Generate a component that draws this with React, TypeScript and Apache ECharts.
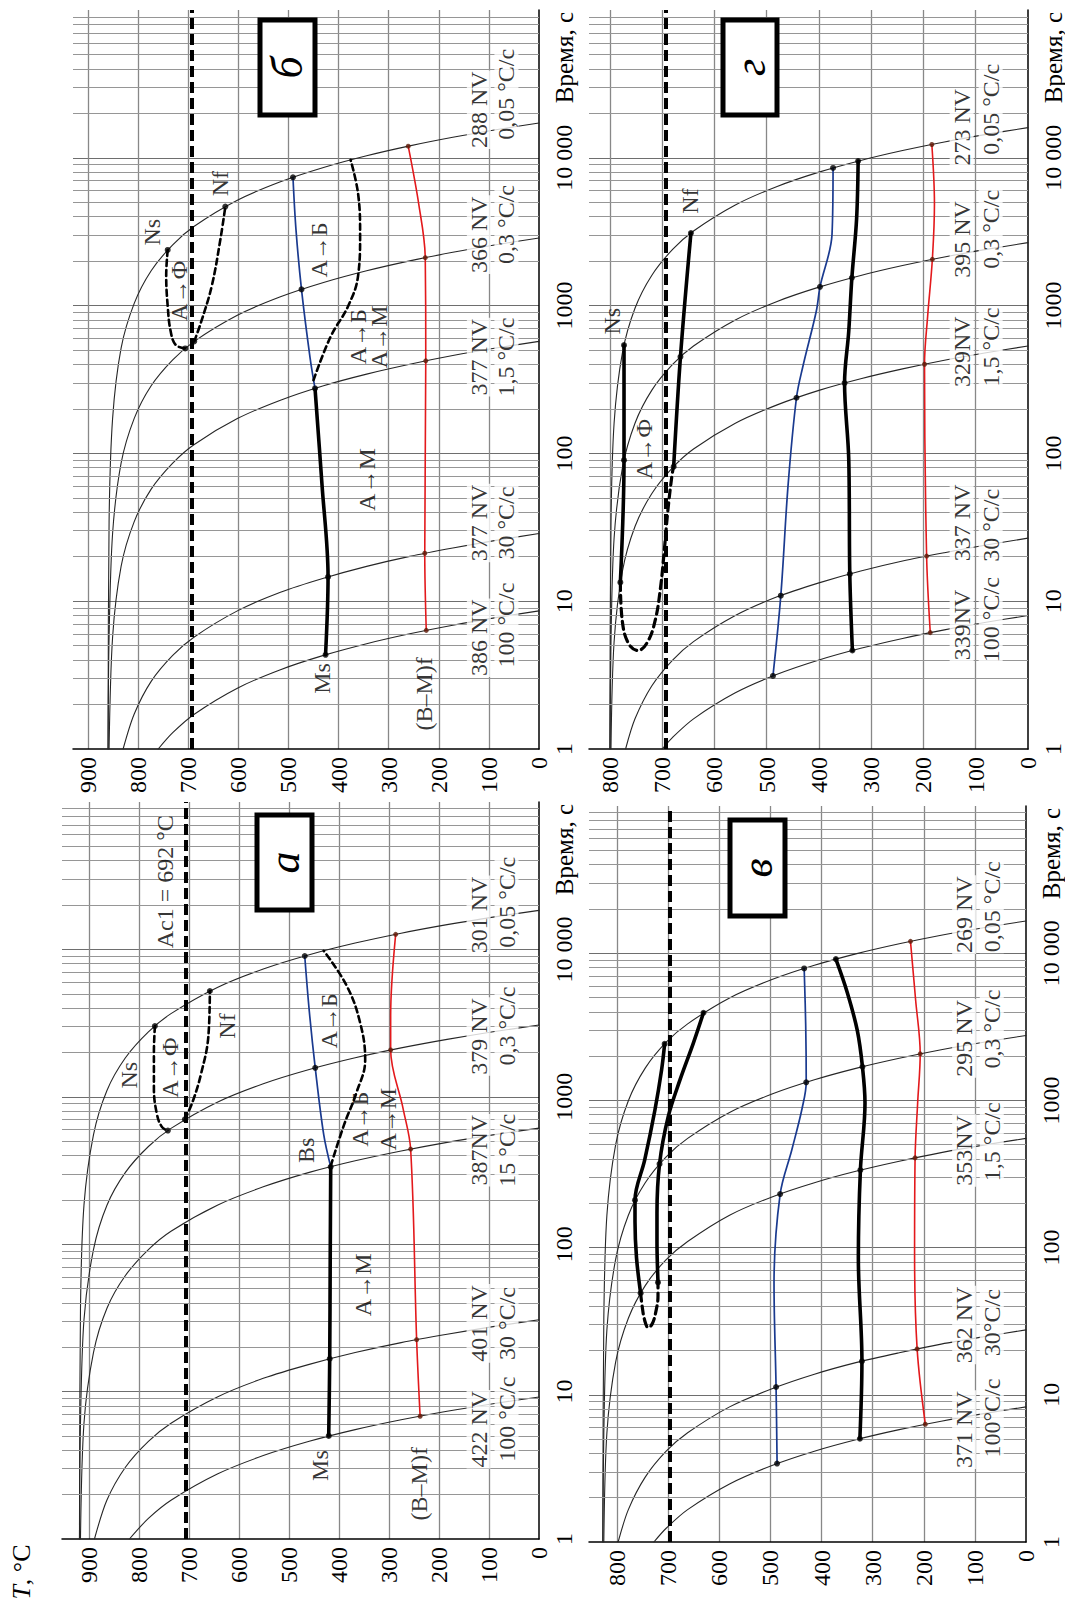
import React, { useEffect, useRef } from 'react';
import * as echarts from 'echarts';

type Pt = [number, number];
type Note = [string, number, number];

// ===================== Panel а  (T, °C ; time, s) =====================
const aCool100: Pt[] = [[820,1],[782,1.38],[736,1.84],[644,2.76],[552,3.68],[460,4.6],[368,5.52],[276,6.44],[184,7.36],[92,8.28],[0,9.2]];
const aCool30: Pt[] = [[890,1],[865,1.84],[828,3.07],[782,4.6],[736,6.13],[644,9.2],[552,12.3],[460,15.3],[368,18.4],[276,21.5],[184,24.5],[92,27.6],[0,30.7]];
const aCool1_5: Pt[] = [[918,1],[911,6.1],[892,18.4],[865,36.8],[828,61.3],[782,92],[736,123],[644,184],[552,245],[460,307],[368,368],[276,429],[184,491],[92,552],[0,613]];
const aCool0_3: Pt[] = [[920,1],[918,6.1],[911,30.7],[892,92],[865,184],[828,307],[782,460],[736,613],[644,920],[552,1227],[460,1533],[368,1840],[276,2147],[184,2453],[92,2760],[0,3067]];
const aCool0_05: Pt[] = [[920,1],[918,36.8],[911,184],[892,552],[865,1104],[828,1840],[782,2760],[736,3680],[644,5520],[552,7360],[460,9200],[368,11040],[276,12880],[184,14720],[92,16560],[0,18400]];
const aMs: Pt[] = [[421,5.0],[419,16.7],[418,80],[417,335]];
const aBainite: Pt[] = [[417,335],[431,553],[448,1573],[460,3843],[469,9020]];
const aBMf: Pt[] = [[238,6.8],[245,22.5],[257,442],[272,829],[297,2077],[297,3548],[287,12660]];
const aNs: Pt[] = [[769,3020],[771,2014],[771,1145],[765,764],[755,625],[743,590]];
const aNf: Pt[] = [[709,703],[693,935],[676,1459],[662,2567],[659,5220]];
const aAB: Pt[] = [[417,340],[390,650],[366,1055],[348,1783],[359,3270],[386,5750],[431,9780]];
const aNodes: Pt[] = [[421,5.0],[419,16.7],[417,335],[448,1573],[469,9020],[769,3020],[743,590],[709,703],[659,5220]];
const aRedNodes: Pt[] = [[238,6.8],[245,22.5],[257,442],[297,2077],[287,12660]];
const aAc1 = 707;
const aNotes: Note[] = [['Ns',821,1400],['А→Ф',738,1580],['Nf',624,3020],['А→Б',421,3270],['А→Б',358,705],['А→М',303,705],['А→М',352,53],['Bs',466,434],['Ms',438,3.15],['(B–M)f',241,2.37],['Ac1 = 692 °C',748,28800]];
const aRates: Note[] = [['422 NV',121,5.55],['100 °C/c',65,6.5],['401 NV',121,29],['30 °C/c',65,29],['387NV',121,434],['15 °C/c',65,434],['379 NV',121,2565],['0,3 °C/c',65,3020],['301 NV',121,17140],['0,05 °C/c',65,20900]];

// ===================== Panel б =====================
const bCool100: Pt[] = [[760,1],[731,1.29],[688,1.72],[602,2.58],[516,3.44],[430,4.3],[344,5.16],[258,6.02],[172,6.88],[86,7.74],[0,8.6]];
const bCool30: Pt[] = [[830,1],[808,1.72],[774,2.87],[731,4.3],[688,5.73],[602,8.6],[516,11.5],[430,14.3],[344,17.2],[258,20.1],[172,22.9],[86,25.8],[0,28.7]];
const bCool1_5: Pt[] = [[858,1],[851,5.7],[834,17.2],[808,34.4],[774,57.3],[731,86],[688,115],[602,172],[516,229],[430,287],[344,344],[258,401],[172,459],[86,516],[0,573]];
const bCool0_3: Pt[] = [[860,1],[858,5.7],[851,28.7],[834,86],[808,172],[774,287],[731,430],[688,573],[602,860],[516,1147],[430,1433],[344,1720],[258,2007],[172,2293],[86,2580],[0,2867]];
const bCool0_05: Pt[] = [[860,1],[858,34.4],[851,172],[834,516],[808,1032],[774,1720],[731,2580],[688,3440],[602,5160],[516,6880],[430,8600],[344,10320],[258,12040],[172,13760],[86,15480],[0,17200]];
const bMs: Pt[] = [[426,4.34],[421,14.6],[433,61],[447,275]];
const bBainite: Pt[] = [[447,275],[457,447],[474,1287],[485,3266],[491,7380]];
const bBMf: Pt[] = [[225,6.35],[228,21.1],[226,423],[227,2110],[240,4860],[261,11980]];
const bNs: Pt[] = [[741,2380],[744,1600],[741,991],[735,667],[725,542],[706,513]];
const bNf: Pt[] = [[688,573],[674,781],[653,1362],[636,2786],[626,4680]];
const bAB: Pt[] = [[450,313],[416,615],[381,991],[361,1597],[357,3016],[361,5700],[376,9680]];
const bNodes: Pt[] = [[426,4.34],[421,14.6],[447,275],[474,1287],[491,7380],[741,2380],[706,513],[688,573],[626,4680]];
const bRedNodes: Pt[] = [[225,6.35],[228,21.1],[226,423],[227,2110],[261,11980]];
const bAc1 = 693;
const bNotes: Note[] = [['Ns',773,3140],['А→Ф',718,1260],['Nf',636,6680],['А→Б',440,2376],['А→Б',361,615],['А→М',320,615],['А→М',344,66.5],['Ms',433,3.0],['(B–M)f',230,2.36]];
const bRates: Note[] = [['386 NV',120,5.66],['100 °C/c',65,6.9],['377 NV',120,33.8],['30 °C/c',65,33.8],['377 NV',120,448],['1,5 °C/c',65,448],['366 NV',120,3020],['0,3 °C/c',65,3540],['288 NV',120,21150],['0,05 °C/c',65,26900]];

// ===================== Panel в =====================
const vCool100: Pt[] = [[728,1],[704,1.24],[662,1.66],[580,2.48],[497,3.31],[414,4.14],[331,4.97],[248,5.8],[166,6.62],[83,7.45],[0,8.28]];
const vCool30: Pt[] = [[798,1],[778,1.66],[745,2.76],[704,4.14],[662,5.52],[580,8.28],[497,11.0],[414,13.8],[331,16.6],[248,19.3],[166,22.1],[83,24.8],[0,27.6]];
const vCool1_5: Pt[] = [[826,1],[820,5.5],[803,16.6],[778,33.1],[745,55.2],[704,82.8],[662,110],[580,166],[497,221],[414,276],[331,331],[248,386],[166,442],[83,497],[0,552]];
const vCool0_3: Pt[] = [[828,1],[826,5.5],[820,27.6],[803,82.8],[778,166],[745,276],[704,414],[662,552],[580,828],[497,1104],[414,1380],[331,1656],[248,1932],[166,2208],[83,2484],[0,2760]];
const vCool0_05: Pt[] = [[828,1],[826,33],[820,166],[803,497],[778,994],[745,1656],[704,2484],[662,3312],[580,4968],[497,6624],[414,8280],[331,9936],[248,11592],[166,13248],[83,14904],[0,16560]];
const vMs: Pt[] = [[325,5.03],[321,16.9],[328,85],[324,336],[315,960],[320,1693],[330,2978],[350,5455],[372,9120]];
const vBainite: Pt[] = [[487,3.41],[489,11.3],[493,57],[481,231],[458,464],[438,885],[430,1327],[431,3228],[434,7880]];
const vBMf: Pt[] = [[197,6.31],[213,20.5],[218,90],[217,407],[212,960],[207,2070],[216,4830],[226,12040]];
const vNs1: Pt[] = [[754,49],[762,85],[765,150],[765,210],[746,394],[726,861],[713,1610],[707,2420]];
const vNs2: Pt[] = [[720,58],[722,110],[722,171],[717,370],[700,775],[677,1377],[651,2443],[631,3940]];
const vLoop: Pt[] = [[754,49],[751,40],[746,32],[739,28.6],[731,30.5],[724,37],[720,47],[720,58]];
const vNodes: Pt[] = [[325,5.03],[321,16.9],[324,336],[320,1693],[372,9120],[487,3.41],[489,11.3],[481,231],[430,1327],[434,7880],[754,49],[765,210],[707,2420],[717,370],[631,3940],[720,58]];
const vRedNodes: Pt[] = [[197,6.31],[213,20.5],[217,407],[207,2070],[226,12040]];
const vAc1 = 697;
const vNotes: Note[] = [];
const vRates: Note[] = [['371 NV',121,5.8],['100°C/c',67,6.95],['362 NV',121,29.8],['30°C/c',67,30.9],['353NV',121,457],['1,5 °C/c',67,524],['295 NV',121,2640],['0,3 °C/c',67,3050],['269 NV',121,18300],['0,05 °C/c',67,20700]];

// ===================== Panel г =====================
const gCool100: Pt[] = [[700,1],[680,1.2],[640,1.6],[560,2.4],[480,3.2],[400,4],[320,4.8],[240,5.6],[160,6.4],[80,7.2],[0,8]];
const gCool30: Pt[] = [[770,1],[752,1.6],[720,2.67],[680,4],[640,5.33],[560,8],[480,10.7],[400,13.3],[320,16],[240,18.7],[160,21.3],[80,24],[0,26.7]];
const gCool1_5: Pt[] = [[798,1],[792,5.3],[776,16],[752,32],[720,53.3],[680,80],[640,107],[560,160],[480,213],[400,267],[320,320],[240,373],[160,427],[80,480],[0,533]];
const gCool0_3: Pt[] = [[800,1],[798,5.3],[792,26.7],[776,80],[752,160],[720,267],[680,400],[640,533],[560,800],[480,1067],[400,1333],[320,1600],[240,1867],[160,2133],[80,2400],[0,2667]];
const gCool0_05: Pt[] = [[800,1],[798,32],[792,160],[776,480],[752,960],[720,1600],[680,2400],[640,3200],[560,4800],[480,6400],[400,8000],[320,9600],[240,11200],[160,12800],[80,14400],[0,16000]];
const gNs: Pt[] = [[780,13.4],[773,90],[773,540]];
const gLoop: Pt[] = [[780,13.4],[776,7.2],[764,5.15],[746,4.64],[728,5.3],[713,7.5],[703,12.5],[696,21.9],[689,41.4],[681,72],[678,81.3]];
const gNf: Pt[] = [[678,81.3],[665,450],[645,3100]];
const gBainite: Pt[] = [[488,3.12],[473,10.9],[459,61.5],[443,238],[431,384],[405,920],[398,1340],[375,3034],[373,8540]];
const gMs: Pt[] = [[336,4.64],[341,15.3],[343,91.6],[351,299],[343,670],[337,1543],[328,3846],[325,9500]];
const gBMf: Pt[] = [[187,6.13],[194,20.2],[198,401],[192,849],[183,2057],[179,4887],[184,12300]];
const gNodes: Pt[] = [[780,13.4],[773,90],[773,540],[678,81.3],[665,450],[645,3100],[488,3.12],[473,10.9],[443,238],[398,1340],[373,8540],[336,4.64],[341,15.3],[351,299],[337,1543],[325,9500]];
const gRedNodes: Pt[] = [[187,6.13],[194,20.2],[198,401],[183,2057],[184,12300]];
const gAc1 = 693;
const gNotes: Note[] = [['Ns',796,785],['А→Ф',734,107],['Nf',646,5085]];
const gRates: Note[] = [['339NV',127,6.9],['100 °C/c',71.5,7.5],['337 NV',127,33.9],['30 °C/c',71.5,32.6],['329NV',127,487],['1,5 °C/c',71.5,525],['395 NV',127,2800],['0,3 °C/c',71.5,3280],['273 NV',127,16100],['0,05 °C/c',71.5,21300]];

// Axis tick labels
const timeTickLabels: Record<number, string> = { 1: '1', 10: '10', 100: '100', 1000: '1000', 10000: '10 000' };
const timeAxisTitle = 'Время, с';
const tempAxisTitle = 'T';

// ===================== layout / style =====================
const FONT = "'Liberation Serif', 'DejaVu Serif', 'Times New Roman', serif";
const W = 1065;
const H = 1604;

const PANELS = [
  { letter: 'а', left: 62, top: 802, width: 477, height: 737, tMax: 955, box: [257, 815, 55, 95],
    cool: [aCool100, aCool30, aCool1_5, aCool0_3, aCool0_05], thick: [aMs], blue: [aBainite], red: [aBMf], dashed: [aNs, aNf, aAB], loops: [] as Pt[][],
    nodes: aNodes, redNodes: aRedNodes, ac1: aAc1, notes: aNotes, rates: aRates },
  { letter: 'б', left: 73, top: 10, width: 466, height: 739, tMax: 930, box: [260, 20, 55, 95],
    cool: [bCool100, bCool30, bCool1_5, bCool0_3, bCool0_05], thick: [bMs], blue: [bBainite], red: [bBMf], dashed: [bNs, bNf, bAB], loops: [] as Pt[][],
    nodes: bNodes, redNodes: bRedNodes, ac1: bAc1, notes: bNotes, rates: bRates },
  { letter: 'в', left: 589, top: 806, width: 437, height: 736, tMax: 855, box: [730, 820, 55, 96],
    cool: [vCool100, vCool30, vCool1_5, vCool0_3, vCool0_05], thick: [vMs, vNs1, vNs2], blue: [vBainite], red: [vBMf], dashed: [] as Pt[][], loops: [vLoop],
    nodes: vNodes, redNodes: vRedNodes, ac1: vAc1, notes: vNotes, rates: vRates },
  { letter: 'г', left: 589, top: 10, width: 439, height: 739, tMax: 840, box: [723, 20, 54, 95],
    cool: [gCool100, gCool30, gCool1_5, gCool0_3, gCool0_05], thick: [gMs, gNs, gNf], blue: [gBainite], red: [gBMf], dashed: [] as Pt[][], loops: [gLoop],
    nodes: gNodes, redNodes: gRedNodes, ac1: gAc1, notes: gNotes, rates: gRates },
];

function minorLogLines(): number[] {
  const out: number[] = [];
  for (let e = 0; e < 5; e++) for (let k = 2; k <= 9; k++) out.push(k * Math.pow(10, e));
  return out;
}

function line(i: number, data: Pt[], lineStyle: any, z: number, smooth: number | boolean = 0.3) {
  return {
    type: 'line', xAxisIndex: i, yAxisIndex: i, data, showSymbol: false, symbol: 'none',
    smooth, silent: true, z, lineStyle: { cap: 'round', join: 'round', ...lineStyle }, emphasis: { disabled: true },
  };
}

function buildOption() {
  const grid: any[] = [];
  const xAxis: any[] = [];
  const yAxis: any[] = [];
  const series: any[] = [];
  const graphic: any[] = [];
  const minors = minorLogLines();

  PANELS.forEach((p, i) => {
    grid.push({ left: p.left, top: p.top, width: p.width, height: p.height, containLabel: false, outerBoundsMode: 'none', show: false });
    xAxis.push({
      gridIndex: i, type: 'value', min: 0, max: p.tMax, interval: 100, inverse: true,
      axisLine: { show: true, onZero: false, lineStyle: { color: '#000', width: 1.5 } },
      axisTick: { show: false },
      axisLabel: {
        show: true, rotate: 90, margin: 8, fontSize: 24, fontFamily: FONT, color: '#000',
        formatter: (v: number) => (Math.round(v) % 100 === 0 ? String(Math.round(v)) : ''),
      },
      splitLine: { show: true, showMinLine: false, showMaxLine: false, lineStyle: { color: '#888', width: 1.3 } },
    });
    yAxis.push({
      gridIndex: i, type: 'log', logBase: 10, min: 1, max: 100000, position: 'right',
      axisLine: { show: true, onZero: false, lineStyle: { color: '#000', width: 1.5 } },
      axisTick: { show: false },
      axisLabel: {
        show: true, rotate: 90, margin: 13, fontSize: 24, fontFamily: FONT, color: '#000',
        formatter: (v: number) => timeTickLabels[Math.round(v)] ?? '',
      },
      splitLine: { show: true, showMinLine: false, showMaxLine: false, lineStyle: { color: '#6e6e6e', width: 1.2 } },
    });

    // minor log grid lines
    series.push({
      type: 'line', xAxisIndex: i, yAxisIndex: i, data: [[0, 1]], symbol: 'none', silent: true, z: 1,
      lineStyle: { width: 0, opacity: 0 },
      markLine: {
        silent: true, symbol: ['none', 'none'], label: { show: false }, emphasis: { disabled: true },
        lineStyle: { color: '#969696', width: 1.1, type: 'solid' },
        data: minors.map((v) => ({ yAxis: v })),
      },
    });
    // Ac1 dashed line
    series.push({
      type: 'line', xAxisIndex: i, yAxisIndex: i, data: [[0, 1]], symbol: 'none', silent: true, z: 4,
      lineStyle: { width: 0, opacity: 0 },
      markLine: {
        silent: true, symbol: ['none', 'none'], label: { show: false }, emphasis: { disabled: true },
        lineStyle: { color: '#000', width: 4, type: [11, 5] },
        data: [{ xAxis: p.ac1 }],
      },
    });

    p.cool.forEach((c) => series.push(line(i, c, { color: '#262626', width: 1.1 }, 3, 0.3)));
    p.thick.forEach((c) => series.push(line(i, c, { color: '#000', width: 3.6 }, 5, 0.35)));
    p.blue.forEach((c) => series.push(line(i, c, { color: '#1a3a8f', width: 1.7 }, 5, 0.35)));
    p.red.forEach((c) => series.push(line(i, c, { color: '#e3191c', width: 1.6 }, 5, 0.35)));
    p.dashed.forEach((c) => series.push(line(i, c, { color: '#000', width: 2.6, type: [6, 4] }, 5, 0.4)));
    p.loops.forEach((c) => series.push(line(i, c, { color: '#000', width: 3.2, type: [8, 5] }, 5, 0.4)));

    series.push({
      type: 'scatter', xAxisIndex: i, yAxisIndex: i, data: p.nodes, symbol: 'circle', symbolSize: 6,
      itemStyle: { color: '#000' }, silent: true, z: 6,
    });
    series.push({
      type: 'scatter', xAxisIndex: i, yAxisIndex: i, data: p.redNodes, symbol: 'circle', symbolSize: 5,
      itemStyle: { color: '#5a1a08' }, silent: true, z: 6,
    });
    // annotations
    series.push({
      type: 'scatter', xAxisIndex: i, yAxisIndex: i, symbol: 'circle', symbolSize: 1, silent: true, z: 8,
      itemStyle: { color: 'transparent' },
      data: p.notes.map((n) => ({ name: n[0], value: [n[1], n[2]] })),
      label: { show: true, position: 'inside', rotate: 90, formatter: '{b}', fontSize: 24, fontFamily: FONT, color: '#000' },
    });
    series.push({
      type: 'scatter', xAxisIndex: i, yAxisIndex: i, symbol: 'circle', symbolSize: 1, silent: true, z: 9,
      itemStyle: { color: 'transparent' },
      data: p.rates.map((n) => ({ name: n[0], value: [n[1], n[2]] })),
      label: {
        show: true, position: 'inside', rotate: 90, formatter: '{b}', fontSize: 24, fontFamily: FONT, color: '#000',
        backgroundColor: '#fff', padding: [0, 1],
      },
    });

    // panel letter box
    const [bx, by, bw, bh] = p.box;
    graphic.push({
      type: 'rect', z: 100, shape: { x: bx, y: by, width: bw, height: bh },
      style: { fill: '#fff', stroke: '#000', lineWidth: 5 },
    });
    graphic.push({
      type: 'text', z: 101, x: bx + bw / 2, y: by + bh / 2, rotation: Math.PI / 2,
      style: {
        text: p.letter, fontSize: 44, fontStyle: 'italic', fontFamily: FONT, fill: '#000',
        align: 'center', verticalAlign: 'middle', textAlign: 'center', textVerticalAlign: 'middle',
      },
    });
    // time axis title
    graphic.push({
      type: 'text', z: 101, x: p.left + p.width + 25, y: p.top + 2, rotation: Math.PI / 2,
      style: {
        text: timeAxisTitle, fontSize: 25, fontFamily: FONT, fill: '#000',
        align: 'right', verticalAlign: 'middle', textAlign: 'right', textVerticalAlign: 'middle',
      },
    });
  });

  graphic.push({
    type: 'text', z: 101, x: 21, y: 1572, rotation: Math.PI / 2,
    style: {
      text: '{i|' + tempAxisTitle + '}, °C', fontSize: 26, fontFamily: FONT, fill: '#000',
      rich: { i: { fontStyle: 'italic', fontSize: 26, fontFamily: FONT, fill: '#000' } },
      align: 'center', verticalAlign: 'middle', textAlign: 'center', textVerticalAlign: 'middle',
    },
  });

  return {
    animation: false,
    backgroundColor: '#fff',
    textStyle: { fontFamily: FONT },
    grid, xAxis, yAxis, series, graphic,
  };
}

export default function App() {
  const ref = useRef<HTMLDivElement>(null);
  useEffect(() => {
    if (!ref.current) return;
    const chart = echarts.init(ref.current, null, { renderer: 'svg', width: W, height: H });
    chart.setOption(buildOption() as any);
    return () => chart.dispose();
  }, []);
  return (
    <div
      ref={ref}
      style={{ position: 'absolute', left: 0, top: 0, width: W, height: H, background: '#fff' }}
    />
  );
}
